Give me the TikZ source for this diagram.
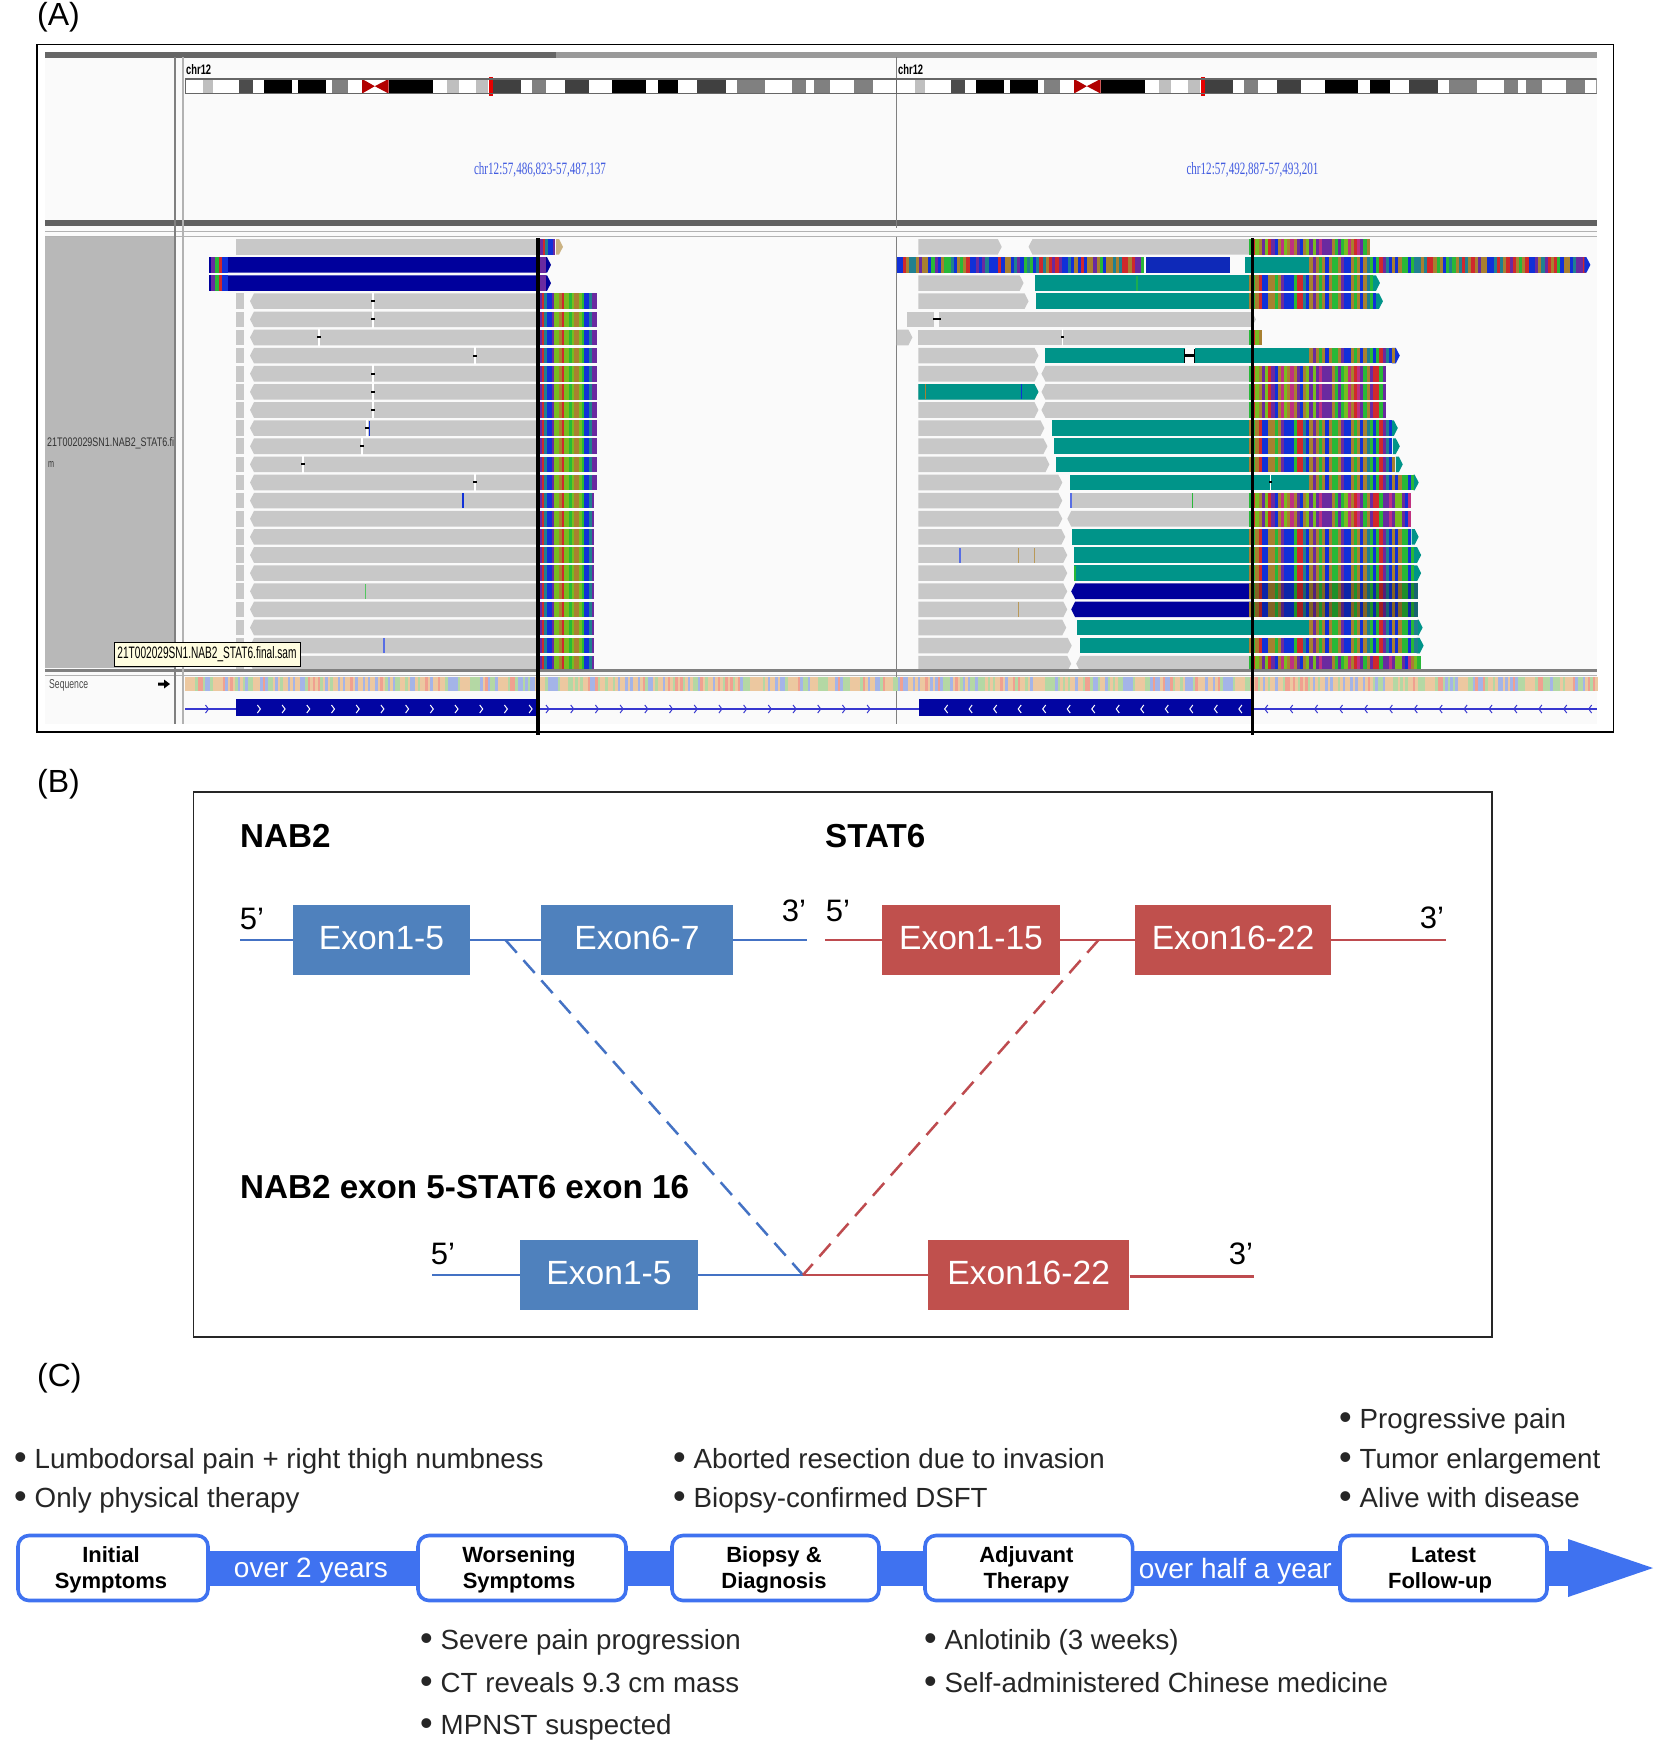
\documentclass[tikz,border=0pt]{standalone}
\usepackage{fontspec}
\usepackage{graphicx}
\setmainfont{Liberation Sans}
\newfontfamily\igvserif{Liberation Serif}
\definecolor{exb}{HTML}{4F81BD}
\definecolor{exr}{HTML}{C0504D}
\definecolor{lnb}{HTML}{4472C4}
\definecolor{lnr}{HTML}{BE4B4F}
\definecolor{tl}{HTML}{3F72F0}
\definecolor{rdg}{HTML}{C8C8C8}
\definecolor{teal2}{HTML}{009489}
\definecolor{dkb}{HTML}{00009C}
\definecolor{igvR}{HTML}{D0282C}
\definecolor{igvG}{HTML}{28B838}
\definecolor{igvB}{HTML}{1030D8}
\definecolor{igvO}{HTML}{A88030}
\definecolor{igvP}{HTML}{6A2AA0}
\definecolor{igvT}{HTML}{208090}
\definecolor{igvL}{HTML}{78BC20}
\definecolor{igvM}{HTML}{C03080}
\definecolor{sqT}{HTML}{ECC8A0}
\definecolor{sqG}{HTML}{B4D8A4}
\definecolor{sqR}{HTML}{F0A090}
\definecolor{sqB}{HTML}{A4B4E8}
\definecolor{igvline}{HTML}{3838D0}
% palettes
\def\setpal#1#2#3{\expandafter\def\csname #1#2\endcsname{#3}}
\setpal{pa}{0}{igvB}\setpal{pa}{1}{igvO}\setpal{pa}{2}{igvR}\setpal{pa}{3}{igvB}
\setpal{pa}{4}{igvG}\setpal{pa}{5}{igvP}\setpal{pa}{6}{igvO}\setpal{pa}{7}{igvT}
\setpal{pb}{0}{igvP}\setpal{pb}{1}{igvR}\setpal{pb}{2}{igvL}\setpal{pb}{3}{igvB}
\setpal{pb}{4}{igvO}\setpal{pb}{5}{igvM}\setpal{pb}{6}{igvG}\setpal{pb}{7}{igvP}
\setpal{ps}{0}{sqT}\setpal{ps}{1}{sqG}\setpal{ps}{2}{sqT}\setpal{ps}{3}{sqR}
\setpal{ps}{4}{sqG}\setpal{ps}{5}{sqB}\setpal{ps}{6}{sqT}\setpal{ps}{7}{sqB}
\foreach \i in {0,...,290}{%
  \pgfmathtruncatemacro\k{mod(mod(\i,17)*mod(\i,13)*5+\i*3+floor(\i/4)*11,8)}%
  \pgfmathtruncatemacro\m{mod(mod(\i,19)*mod(\i,11)*3+\i*5+floor(\i/3)*7,8)}%
  \expandafter\xdef\csname sa\i\endcsname{\csname pa\k\endcsname}%
  \expandafter\xdef\csname sb\i\endcsname{\csname pb\m\endcsname}%
}
% left-hand stripes
\foreach \c [count=\n from 0] in {igvP,igvR,igvT,igvB,igvB,igvP,igvL,igvL,igvO,igvR,igvL,igvL,igvG,igvL,igvO,igvO,igvL,igvG,igvB,igvB,igvT,igvP,igvP,igvT}{%
  \expandafter\xdef\csname sl\n\endcsname{\c}}
\newcommand{\rowy}[1]{\pgfmathsetmacro\yy{246.8+18.13*#1}}
\newcommand{\rdP}[4]{\rowy{#3}\fill[fill=#4] (#1,\yy-7.8) rectangle (#2,\yy+7.8);}
\newcommand{\rdR}[4]{\rowy{#3}\fill[fill=#4] (#1,\yy-7.8) -- (#2-4,\yy-7.8) -- (#2,\yy) -- (#2-4,\yy+7.8) -- (#1,\yy+7.8) -- cycle;}
\newcommand{\rdL}[4]{\rowy{#3}\fill[fill=#4] (#2,\yy-7.8) -- (#1+4,\yy-7.8) -- (#1,\yy) -- (#1+4,\yy+7.8) -- (#2,\yy+7.8) -- cycle;}
% \strp{prefix}{origin}{start}{end}{row}: stripes 3.2 wide
\newcommand{\strp}[5]{\rowy{#5}%
  \pgfmathtruncatemacro\sa{(#3-#2)/3.2}\pgfmathtruncatemacro\sb{(#4-#2)/3.2-1}%
  \foreach \n in {\sa,...,\sb}{\fill[fill=\csname #1\n\endcsname] ({#2+\n*3.2},\yy-7.8) rectangle ({#2+\n*3.2+3.3},\yy+7.8);}}
% left block stripes, 2.5 wide
\newcommand{\strl}[3]{\rowy{#3}%
  \pgfmathtruncatemacro\sb{(#2-#1)/2.5-1}%
  \foreach \n in {0,...,\sb}{\fill[fill=\csname sl\n\endcsname] ({#1+\n*2.5},\yy-7.8) rectangle ({#1+\n*2.5+2.6},\yy+7.8);}}
\newcommand{\mk}[2]{\rowy{#2}\fill[white] (#1-0.7,\yy-8.5) rectangle (#1+0.7,\yy+8.5);\fill[black] (#1-1.6,\yy-1) rectangle (#1+1.6,\yy+1);}
\newcommand{\tk}[3]{\rowy{#2}\fill[fill=#3] (#1-0.8,\yy-7.5) rectangle (#1+0.8,\yy+7.5);}
\newcommand{\chvR}[2]{\draw[#2,line width=1pt] (#1-2,705) -- (#1+1,709) -- (#1-2,713);}
\newcommand{\chvL}[2]{\draw[#2,line width=1pt] (#1+2,705) -- (#1-1,709) -- (#1+2,713);}
\newcommand{\ideo}[1]{\begin{scope}[shift={(#1,0)}]
  \foreach \a/\b/\c in {383/403/gray!50,452/478/black!70,498/552/black,562/616/black,628/658/gray,734/817/black,845/867/gray!50,900/922/gray!50,932/984/black!75,1004/1031/gray,1068/1112/black!75,1157/1221/black,1243/1281/black,1317/1372/black!75,1392/1445/gray,1497/1523/gray,1537/1568/gray,1613/1650/gray}
    {\fill[fill=\c] ({\a/1.889},79) rectangle ({\b/1.889},93.5);}
  \fill[fill=white] ({684/1.889},78) rectangle ({734/1.889},95);
  \fill[fill=red!70!black] ({684/1.889},79) -- ({708/1.889},86.2) -- ({684/1.889},93.5) -- cycle;
  \fill[fill=red!70!black] ({734/1.889},79) -- ({708/1.889},86.2) -- ({734/1.889},93.5) -- cycle;
  \fill[fill=red!90!black] ({924/1.889},77) rectangle ({932/1.889},96);
\end{scope}}
\tikzset{
  exbox/.style={draw=none,inner sep=0pt,text=white,text height=18pt,text depth=0pt,font=\fontsize{33.6}{33.6}\selectfont},
  exblue/.style={exbox,fill=exb},
  exred/.style={exbox,fill=exr},
  blueln/.style={draw=lnb,line width=2.6pt},
  redln/.style={draw=lnr,line width=2.6pt},
  head/.style={anchor=base west,inner sep=0pt,font=\fontsize{33.2}{33.2}\selectfont\bfseries},
  prime/.style={inner sep=0pt,font=\fontsize{31}{31}\selectfont},
  panel/.style={anchor=base west,inner sep=0pt,font=\fontsize{32}{32}\selectfont},
  bul/.style={anchor=base west,inner sep=0pt,text=black!85,font=\fontsize{27.7}{27.7}\selectfont},
  tbox/.style={draw=tl,fill=white,line width=3.6pt,rounded corners=11pt,inner sep=0pt,minimum height=65pt,align=center,font=\fontsize{22}{26}\selectfont\bfseries},
  band/.style={draw=tl,line width=35pt},
  overtext/.style={inner sep=0pt,text=white,font=\fontsize{28}{28}\selectfont},
  igvtxt/.style={inner sep=0pt,anchor=west},
  rblock/.style={x=0.99264pt,xshift=6.11pt},
}
\newcommand{\bl}[1]{\makebox[20.5pt][l]{\raisebox{-1.5pt}{\scalebox{1.3}{•}}}#1}
\newcommand{\hs}{\rule{0pt}{20pt}}
\begin{document}
\begin{tikzpicture}[x=1pt,y=-1pt]
\useasboundingbox (0,0) rectangle (1654,1743);
\fill[white] (0,0) rectangle (1654,1743);
% ---------- Panel A
\node[panel] (labA) at (37,25) {(A)};
\fill[fill=black!2] (45,52) rectangle (1596.6,724);
\fill[fill=black!60] (45,52) rectangle (556,57.5);
\fill[fill=black!40] (556,52) rectangle (1596.6,57.5);
\fill[fill=black!62] (45,220) rectangle (1596.6,225.5);
\draw[black!30,line width=1pt] (45,231.5) -- (1596.6,231.5);
\draw[black!30,line width=1pt] (45,236) -- (1596.6,236);
\fill[fill=black!28] (45,237) rectangle (175,668);
\fill[fill=black!50] (45,669) rectangle (1596.6,672);
\draw[black!30,line width=1pt] (45,675) -- (1596.6,675);
\draw[black!50,line width=1.6pt] (175,57) -- (175,724);
\draw[black!30,line width=1.6pt] (183,57) -- (183,724);
\draw[black!50,line width=1pt] (896.5,57) -- (896.5,228);
\draw[black!50,line width=1pt] (896.5,237) -- (896.5,724);
% ideograms
\begin{scope}
\clip (185,70) rectangle (1596.6,100);
\fill[white] (185,79) rectangle (1596.6,93.5);
\ideo{0}
\ideo{712}
\draw[black!60,line width=1.2pt] (185,79) -- (1596.6,79);
\draw[black!60,line width=1.2pt] (185,93.5) -- (1596.6,93.5);
\draw[black!60,line width=1pt] (185.5,79) -- (185.5,93.5);
\draw[black!60,line width=1pt] (1596,79) -- (1596,93.5);
\end{scope}
\draw[black!60,line width=1pt] (896.5,79) -- (896.5,93.5);
\node[igvtxt] (chrA) at (186,70) {\resizebox{25pt}{10pt}{\textbf{chr12}}};
\node[igvtxt] (chrB) at (898,70) {\resizebox{25pt}{10pt}{\textbf{chr12}}};
\node[inner sep=0pt,text=igvB!80] (posA) at (540,170) {\resizebox{132pt}{12pt}{\igvserif chr12:57,486,823-57,487,137}};
\node[inner sep=0pt,text=igvB!80] (posB) at (1252.5,170) {\resizebox{132pt}{12pt}{\igvserif chr12:57,492,887-57,493,201}};
\node[igvtxt,text=black!80] (samp) at (47,443) {\resizebox{127pt}{9pt}{21T002029SN1.NAB2\_STAT6.fi}};
\node[igvtxt,text=black!80] (sampb) at (48,464) {\resizebox{6pt}{6pt}{m}};
% reads
\begin{scope}
\clip (184,237) rectangle (1602,668);
% left block
\rdP{236}{538}{0}{rdg}
\strl{540}{557}{0}
\rdR{556}{563}{0}{igvO!60}
\foreach \r in {1,2}{
  \rdR{209}{551}{\r}{dkb}
  \strp{sb}{209}{209}{231}{\r}
  \rdP{538}{546}{\r}{igvP}
  \rowy{\r}\fill[fill=dkb] (209,\yy-7.8) rectangle (211,\yy+7.8);
}
\foreach \r in {3,...,23}{
  \rdP{236}{243.5}{\r}{rdg}
  \rdL{250}{538}{\r}{rdg}
}
\foreach \r in {3,...,13}{\strl{539}{598}{\r}}
\foreach \r in {14,...,23}{\strl{539}{595}{\r}}
\foreach \x/\r in {373/3,373/4,319/5,475/6,373/7,373/8,373/9,367/10,362/11,303/12,475/13}{\mk{\x}{\r}}
\tk{369.5}{10}{igvB}
\tk{463}{14}{igvB}
\tk{365.5}{19}{igvG!80!white}
\tk{384}{22}{igvB!70}
% right block
\begin{scope}[rblock]
\rdR{919}{1003}{0}{rdg}\rdL{1030}{1255}{0}{rdg}\strp{sb}{897}{1255}{1375}{0}
% row 1
\strp{sa}{897}{897}{1148}{1}\rdP{1148}{1233}{1}{igvB!85!black}
\rdP{1248}{1314}{1}{teal2}\strp{sa}{897}{1314}{1592}{1}\rdR{1590}{1596}{1}{igvB}
% teal rows
\foreach \r/\ge/\ts/\se/\tip in {2/1025/1036/1379/1384,3/1030/1037.5/1382/1387,10/1046/1054/1397/1402,11/1049/1056/1399/1404,12/1051/1058/1402/1407,16/1067/1074/1418/1423,17/1069/1076/1420/1425.5,18/1069/1076/1420/1425.5,22/1073.5/1081.5/1423/1428}{
  \rdR{919}{\ge}{\r}{rdg}
  \rdP{\ts}{1255}{\r}{teal2}
  \rdR{\se-2}{\tip}{\r}{teal2}
  \strp{sa}{897}{1255}{\se}{\r}
}
\tk{1139}{2}{igvG!70!teal2}
\tk{1077}{18}{igvG}
% row 4, 5
\rdP{908}{935}{4}{rdg}\rdP{940}{1255}{4}{rdg}\rdR{1255}{1259}{4}{rdg}
\rowy{4}\fill[black] (934,\yy-1) rectangle (942,\yy+1);
\rdR{897}{913}{5}{rdg}\rdP{919}{1255}{5}{rdg}\mk{1064.5}{5}\strp{sb}{897}{1255}{1265}{5}
% row 6
\rdR{919}{1040}{6}{rdg}\rdP{1047}{1188}{6}{teal2}\rdP{1198}{1316}{6}{teal2}
\rowy{6}\fill[black] (1187,\yy-1.2) rectangle (1198,\yy+1.2);\fill[black] (1187,\yy-7) rectangle (1188,\yy+7);\fill[black] (1197,\yy-7) rectangle (1198,\yy+7);
\rdR{1396}{1404}{6}{igvB}\strp{sa}{897}{1316}{1401}{6}
% gray pair rows
\foreach \r in {7,8,9}{\rdR{919}{1040}{\r}{rdg}\rdL{1043}{1255}{\r}{rdg}\strp{sb}{897}{1255}{1391}{\r}}
\rdR{919}{1040}{8}{teal2}
\tk{1023}{8}{igvB}
\tk{926}{8}{igvO}
% row 13
\rdR{919}{1064}{13}{rdg}\rdP{1072}{1316}{13}{teal2}\mk{1274}{13}
\rdR{1418}{1423}{13}{teal2}\strp{sa}{897}{1316}{1419}{13}
% rows 14,15
\rdR{919}{1064}{14}{rdg}\rdP{1073}{1255}{14}{rdg}\tk{1073}{14}{igvB!70}\tk{1195}{14}{igvG}\strp{sb}{897}{1255}{1416}{14}
\rdR{919}{1064}{15}{rdg}\rdL{1069}{1255}{15}{rdg}\strp{sb}{897}{1255}{1416}{15}
\foreach \x/\c in {961/igvB!70,1020/igvO!80,1036/igvO!80}{\tk{\x}{17}{\c}}
% dark rows
\foreach \r in {19,20}{\rdR{919}{1069}{\r}{rdg}\rdL{1073}{1255}{\r}{dkb}\strp{sa}{897}{1255}{1422}{\r}
  \rowy{\r}\fill[black,opacity=.22] (1255,\yy-7.8) rectangle (1422,\yy+7.8);}
\tk{1020}{20}{igvO!80}
% row 21
\rdR{919}{1068}{21}{rdg}\rdP{1079}{1314}{21}{teal2}\rdR{1422}{1427}{21}{teal2}\strp{sa}{897}{1314}{1424}{21}
% row 23
\rdR{919}{1073}{23}{rdg}\rdL{1078}{1255}{23}{rdg}\strp{sb}{897}{1255}{1425}{23}
\end{scope}
\end{scope}
% sequence + gene track
\node[igvtxt,text=black!70] (seqlab) at (49,685) {\resizebox{39pt}{9pt}{Sequence}};
\fill[black] (158,682.5) -- (164,682.5) -- (164,679.5) -- (170,684) -- (164,688.5) -- (164,685.5) -- (158,685.5) -- cycle;
\foreach \n in {0,...,564}{
  \pgfmathtruncatemacro\k{mod(mod(\n,23)*mod(\n,17)*7+\n*3+floor(\n/5)*13,8)}
  \fill[fill=\csname ps\k\endcsname] ({185+\n*2.5},677) rectangle ({185+\n*2.5+2.6},691);
}
\draw[igvline,line width=1.3pt] (185,709) -- (1596.6,709);
\fill[fill=dkb!90!igvB] (236,699) rectangle (538,716);
\chvR{207.5}{igvline}
\foreach \k in {0,...,11}{\chvR{259.4+24.7*\k}{white}}
\foreach \k in {0,...,13}{\chvR{548+24.7*\k}{igvline}}
\begin{scope}[rblock]
\fill[fill=dkb!90!igvB] (920,699) rectangle (1255,716);
\foreach \k in {0,...,12}{\chvL{946.5+24.7*\k}{white}}
\foreach \k in {0,...,13}{\chvL{1269+25.1*\k}{igvline}}
\end{scope}
% tooltip
\node[draw=black,fill=yellow!12,line width=.8pt,minimum width=186pt,minimum height=24pt,inner sep=0pt] (tip) at (207,654) {\resizebox{179pt}{12pt}{21T002029SN1.NAB2\_STAT6.final.sam}};
% black fusion lines
\draw[black,line width=3.6pt] (538,238) -- (538,735);
\draw[black,line width=3.6pt] (1252.5,238) -- (1252.5,735);
\draw[black,line width=1.6pt] (37,44.5) rectangle (1613.5,732);
% ---------- Panel B
\node[panel] (labB) at (37,792) {(B)};
\draw[black!85,line width=1.8pt] (193.5,792) rectangle (1492,1337);
\node[head] (hNab) at (240,847) {NAB2};
\node[head] (hStat) at (825,847) {STAT6};
\node[head] (hFus) at (240,1198) {NAB2 exon 5-STAT6 exon 16};
\node[exblue,minimum width=177pt,minimum height=70.5pt] (n1) at (381.5,940) {Exon1-5};
\node[exblue,minimum width=192pt,minimum height=70.5pt] (n2) at (637,940) {Exon6-7};
\node[exred,minimum width=178pt,minimum height=70.5pt] (s1) at (971,940) {Exon1-15};
\node[exred,minimum width=196pt,minimum height=70.5pt] (s2) at (1233,940) {Exon16-22};
\node[exblue,minimum width=178pt,minimum height=70.5pt] (f1) at (609,1275) {Exon1-5};
\node[exred,minimum width=201.5pt,minimum height=70.5pt] (f2) at (1028.7,1275) {Exon16-22};
\coordinate (n5) at (240,940);
\coordinate (n3) at (807,940);
\coordinate (s5) at (825,940);
\coordinate (s3) at (1446,940);
\coordinate (f5) at (432,1275);
\coordinate (f3) at (1254,1276.5);
\coordinate (nbrk) at (505.5,940);
\coordinate (sbrk) at (1098.5,940);
\coordinate (junc) at (803,1275);
\draw[blueln] (n5) -- (n1.west);
\draw[blueln] (n1.east) -- (n2.west);
\draw[blueln] (n2.east) -- (n3);
\draw[redln] (s5) -- (s1.west);
\draw[redln] (s1.east) -- (s2.west);
\draw[redln] (s2.east) -- (s3);
\draw[blueln] (f5) -- (f1.west);
\draw[blueln] (f1.east) -- (junc);
\draw[redln] (junc) -- (f2.west);
\draw[redln] (f2.east |- f3) -- (f3);
\draw[lnb,line width=2.5pt,dash pattern=on 17pt off 10pt] (nbrk) -- (junc);
\draw[lnr,line width=2.5pt,dash pattern=on 17pt off 10pt] (sbrk) -- (junc);
\node[prime] (p1) at (252,919) {5’};
\node[prime] (p2) at (794,911) {3’};
\node[prime] (p3) at (838,911) {5’};
\node[prime] (p4) at (1432,918) {3’};
\node[prime] (p5) at (443,1254) {5’};
\node[prime] (p6) at (1241,1254) {3’};
% ---------- Panel C
\node[panel] (labC) at (37,1386) {(C)};
\node[tbox,minimum width=190pt] (t1) at (113,1568) {\hspace*{-4pt}\hs Initial\\\hspace*{-4pt}Symptoms};
\node[tbox,minimum width=208pt] (t2) at (522,1568) {\hspace*{-6pt}\hs Worsening\\\hspace*{-6pt}Symptoms};
\node[tbox,minimum width=207pt] (t3) at (775.5,1568) {\hspace*{-3pt}\hs Biopsy \&\\\hspace*{-3pt}Diagnosis};
\node[tbox,minimum width=207.6pt] (t4) at (1028.8,1568) {\hspace*{-5pt}\hs Adjuvant\\\hspace*{-5pt}Therapy};
\node[tbox,minimum width=207pt] (t5) at (1443.5,1568) {\hs Latest\\\hspace*{-7pt}Follow-up};
\coordinate (hb) at (1568,1568);
\coordinate (htip) at (1653,1568);
\draw[band] (t1.east) -- (t2.west) node[midway,overtext,yshift=-3pt,xshift=-2pt] (ot1) {over 2 years};
\draw[band] (t2.east) -- (t3.west);
\draw[band] (t3.east) -- (t4.west);
\draw[band] (t4.east) -- (t5.west) node[midway,overtext,yshift=-3pt,xshift=-1pt] (ot2) {over half a year};
\draw[band] (t5.east) -- (hb);
\fill[fill=tl] (1568,1539) -- (htip) -- (1568,1597) -- cycle;
\node[bul] (b1) at (14,1468) {\bl{Lumbodorsal pain + right thigh numbness}};
\node[bul] (b2) at (14,1507) {\bl{Only physical therapy}};
\node[bul] (b3) at (420,1649) {\bl{Severe pain progression}};
\node[bul] (b4) at (420,1692) {\bl{CT reveals 9.3 cm mass}};
\node[bul] (b5) at (420,1734) {\bl{MPNST suspected}};
\node[bul] (b6) at (673,1468) {\bl{Aborted resection due to invasion}};
\node[bul] (b7) at (673,1507) {\bl{Biopsy-confirmed DSFT}};
\node[bul] (b8) at (924,1649) {\bl{Anlotinib (3 weeks)}};
\node[bul] (b9) at (924,1692) {\bl{Self-administered Chinese medicine}};
\node[bul] (b10) at (1339,1428) {\bl{Progressive pain}};
\node[bul] (b11) at (1339,1468) {\bl{Tumor enlargement}};
\node[bul] (b12) at (1339,1507) {\bl{Alive with disease}};
\end{tikzpicture}
\end{document}
